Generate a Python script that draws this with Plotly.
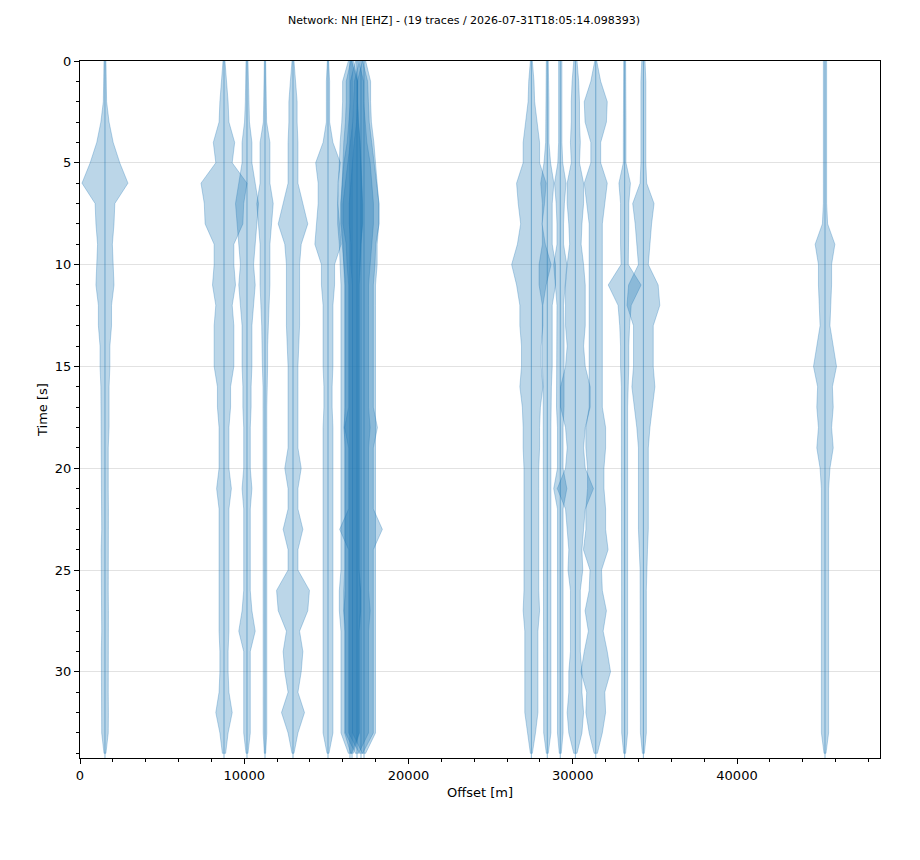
# Record section of 19 EHZ traces, offset vs time (envelopes)

import plotly.graph_objects as go


TRACE_LINE = "rgba(31,119,180,0.5)"
TRACE_FILL = "rgba(31,119,180,0.3)"

TITLE = "Network: NH [EHZ] - (19 traces / 2026-07-31T18:05:14.098393)"

# sample times [s], one envelope value per second
TIME = list(range(35))

# station offsets [m]
OFFSETS = [
    1520, 8767, 10167, 11263, 12968, 15099,
    16438, 16560, 16865, 17108, 17291,
    27480, 28450, 29240, 30160, 31400, 33160, 34300,
    45358,
]

# half-width of each trace envelope [m] at TIME
AMP_01 = [60, 80, 100, 250, 500, 900, 1400, 600, 550, 450, 500, 550, 400, 400, 300, 300, 250, 250, 250,
          200, 220, 200, 210, 200, 230, 200, 200, 210, 200, 220, 200, 200, 210, 200, 60]
AMP_02 = [60, 160, 250, 300, 650, 500, 1400, 1200, 1150, 600, 600, 700, 500, 600, 600, 600, 400, 400, 300,
          300, 300, 450, 300, 300, 300, 300, 300, 300, 300, 250, 250, 300, 500, 250, 100]
AMP_03 = [60, 100, 100, 150, 300, 300, 500, 700, 600, 500, 400, 500, 400, 300, 300, 300, 250, 250, 200,
          200, 200, 300, 200, 200, 200, 200, 200, 300, 500, 200, 200, 200, 200, 200, 60]
AMP_04 = [40, 60, 80, 100, 300, 300, 300, 500, 400, 300, 300, 300, 250, 200, 160, 160, 120, 110, 110,
          110, 110, 110, 110, 110, 110, 110, 110, 110, 110, 110, 110, 110, 110, 110, 40]
AMP_05 = [60, 160, 250, 250, 300, 300, 300, 600, 900, 500, 400, 400, 400, 400, 350, 300, 300, 300, 300,
          300, 500, 300, 300, 600, 300, 300, 1000, 900, 400, 600, 500, 300, 700, 300, 60]
AMP_06 = [40, 100, 100, 100, 300, 750, 600, 600, 700, 800, 400, 400, 300, 300, 300, 300, 250, 250, 300,
          300, 300, 300, 300, 300, 300, 300, 300, 300, 300, 300, 300, 300, 300, 300, 60]
AMP_07 = [100, 450, 450, 500, 600, 650, 700, 750, 750, 650, 600, 550, 550, 550, 550, 550, 550, 550, 550,
          550, 550, 550, 550, 550, 550, 550, 650, 650, 550, 550, 550, 550, 550, 550, 100]
AMP_08 = [80, 350, 350, 400, 500, 550, 600, 650, 650, 550, 500, 450, 450, 450, 450, 450, 450, 450, 450,
          450, 450, 450, 450, 450, 450, 450, 500, 500, 450, 450, 450, 450, 450, 450, 80]
AMP_09 = [100, 400, 400, 500, 600, 800, 900, 1000, 1000, 900, 800, 700, 700, 700, 700, 700, 700, 700, 800,
          700, 700, 700, 700, 700, 700, 700, 700, 800, 700, 700, 700, 700, 700, 700, 100]
AMP_10 = [100, 400, 450, 500, 650, 800, 950, 1100, 1100, 900, 850, 750, 750, 750, 750, 750, 750, 750, 1000,
          750, 750, 750, 750, 1300, 750, 750, 750, 750, 750, 750, 750, 750, 750, 750, 100]
AMP_11 = [100, 400, 400, 450, 600, 700, 800, 900, 900, 800, 800, 700, 700, 700, 700, 700, 700, 700, 700,
          700, 700, 700, 700, 700, 700, 700, 700, 700, 700, 700, 700, 700, 700, 700, 100]
AMP_12 = [60, 160, 200, 350, 500, 500, 900, 800, 650, 850, 1200, 900, 700, 700, 600, 600, 700, 550, 500,
          500, 450, 450, 450, 450, 450, 450, 450, 500, 400, 400, 400, 400, 400, 250, 60]
AMP_13 = [60, 100, 100, 100, 100, 200, 400, 300, 300, 300, 500, 500, 300, 300, 300, 300, 250, 220, 220,
          220, 220, 220, 220, 220, 220, 220, 220, 220, 220, 220, 220, 220, 220, 220, 60]
AMP_14 = [100, 100, 100, 100, 100, 150, 350, 250, 200, 200, 400, 300, 200, 230, 230, 230, 230, 230, 170,
          170, 170, 400, 170, 170, 170, 170, 170, 170, 170, 170, 170, 170, 170, 170, 60]
AMP_15 = [100, 200, 250, 250, 300, 250, 500, 500, 400, 350, 500, 600, 600, 600, 500, 600, 900, 900, 600,
          500, 600, 1100, 600, 500, 400, 450, 300, 300, 300, 300, 400, 400, 500, 400, 100]
AMP_16 = [60, 300, 700, 650, 300, 300, 700, 550, 400, 400, 400, 400, 400, 400, 400, 400, 400, 400, 600,
          600, 500, 500, 600, 600, 750, 350, 400, 650, 450, 700, 900, 550, 600, 400, 100]
AMP_17 = [60, 80, 80, 80, 80, 80, 350, 250, 250, 250, 220, 1000, 400, 300, 250, 250, 200, 180, 180,
          180, 180, 180, 180, 180, 180, 180, 180, 180, 180, 180, 180, 180, 180, 180, 60]
AMP_18 = [100, 150, 150, 150, 150, 150, 200, 650, 500, 400, 300, 900, 1000, 600, 600, 600, 700, 550, 400,
          300, 300, 300, 300, 300, 250, 200, 180, 180, 180, 180, 180, 180, 180, 180, 60]
AMP_19 = [100, 100, 100, 100, 100, 100, 100, 100, 160, 600, 400, 400, 350, 300, 500, 700, 450, 500, 400,
          500, 300, 220, 220, 220, 220, 220, 220, 220, 220, 220, 220, 220, 220, 220, 60]

AMPS = [
    AMP_01, AMP_02, AMP_03, AMP_04, AMP_05, AMP_06, AMP_07, AMP_08, AMP_09, AMP_10,
    AMP_11, AMP_12, AMP_13, AMP_14, AMP_15, AMP_16, AMP_17, AMP_18, AMP_19,
]

X_MAX = 48706
T_MAX = 34.23


def main():
    fig = go.Figure()

    for offset, amp in zip(OFFSETS, AMPS):
        x = [offset + a for a in amp] + [offset - a for a in reversed(amp)]
        y = TIME + TIME[::-1]

        fig.add_trace(go.Scatter(
            x=x,
            y=y,
            mode="lines",
            fill="toself",
            fillcolor=TRACE_FILL,
            line=dict(color=TRACE_LINE, width=0.6),
            hoverinfo="skip",
            showlegend=False,
        ))

        fig.add_trace(go.Scatter(
            x=[offset, offset],
            y=[TIME[0], T_MAX],
            mode="lines",
            line=dict(color=TRACE_LINE, width=1),
            hoverinfo="skip",
            showlegend=False,
        ))

    axis_common = dict(
        showline=True,
        linecolor="black",
        linewidth=1,
        mirror=True,
        ticks="outside",
        ticklen=5,
        tickcolor="black",
        tickfont=dict(size=13, color="black"),
        zeroline=False,
    )

    fig.update_xaxes(
        range=[0, X_MAX],
        tickvals=[0, 10000, 20000, 30000, 40000],
        ticktext=["0", "10000", "20000", "30000", "40000"],
        showgrid=False,
        minor=dict(dtick=2000, ticks="outside", ticklen=3, tickcolor="black", showgrid=False),
        title=dict(text="Offset [m]", font=dict(size=13, color="black"), standoff=6),
        **axis_common,
    )

    fig.update_yaxes(
        range=[T_MAX, 0],
        tickvals=[0, 5, 10, 15, 20, 25, 30],
        showgrid=True,
        gridcolor="#e2e2e2",
        gridwidth=1.3,
        minor=dict(dtick=1, ticks="outside", ticklen=3, tickcolor="black", showgrid=False),
        title=dict(text="Time [s]", font=dict(size=13, color="black"), standoff=4),
        **axis_common,
    )

    # the page adds an 8 px body margin, so the figure is a bit smaller than the window
    fig.update_layout(
        title=dict(
            text=TITLE,
            x=0.5,
            xanchor="center",
            y=0.986,
            yanchor="middle",
            font=dict(size=11, color="black"),
        ),
        font=dict(family="DejaVu Sans", color="black"),
        width=912,
        height=852,
        margin=dict(l=72, r=40, t=53, b=102),
        plot_bgcolor="white",
        paper_bgcolor="white",
    )

    fig.write_html("out.html")


if __name__ == "__main__":
    main()
